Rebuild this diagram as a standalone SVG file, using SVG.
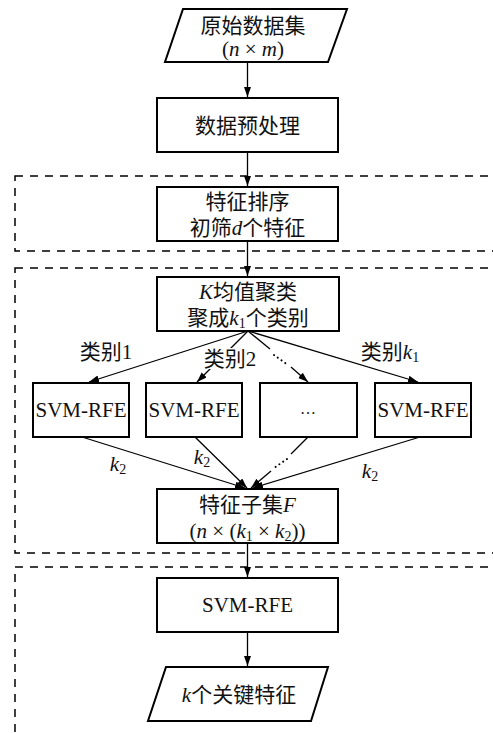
<svg xmlns="http://www.w3.org/2000/svg" width="493" height="733" viewBox="0 0 493 733">
<style>
.box{fill:#fff;stroke:#000;stroke-width:2}
.dash{fill:none;stroke:#000;stroke-width:1.5;stroke-dasharray:8 7}
.ln{fill:none;stroke:#000;stroke-width:1.3}
.dot{fill:none;stroke:#000;stroke-width:2;stroke-dasharray:0.1 4.5;stroke-linecap:round}
.t{font-family:"Liberation Serif","Noto Sans CJK SC",serif;font-size:21px;fill:#111;text-anchor:middle}
.i{font-style:italic}
.sub{font-size:14px}
</style>
<defs>
<marker id="ah" markerUnits="userSpaceOnUse" markerWidth="11" markerHeight="8" refX="10" refY="3.5" orient="auto">
<path d="M0,0 L10,3.5 L0,7 z" fill="#000"/>
</marker>
</defs>
<g id="frames">
<rect class="dash" x="15" y="176" width="490" height="75"/>
<rect class="dash" x="15" y="268" width="490" height="285"/>
<rect class="dash" x="15" y="567" width="490" height="200"/>
</g>
<g id="connectors">
<line class="ln" x1="247.5" y1="62" x2="247.5" y2="97" marker-end="url(#ah)"/>
<line class="ln" x1="247.5" y1="152" x2="247.5" y2="186" marker-end="url(#ah)"/>
<line class="ln" x1="247.5" y1="241" x2="247.5" y2="276" marker-end="url(#ah)"/>
<line class="ln" x1="248" y1="331" x2="89" y2="382" marker-end="url(#ah)"/>
<line class="ln" x1="248" y1="331" x2="197" y2="382" marker-end="url(#ah)"/>
<line class="ln" x1="248" y1="331" x2="270" y2="349"/>
<line class="dot" x1="274" y1="355" x2="288" y2="365"/>
<line class="ln" x1="291" y1="367" x2="308" y2="382" marker-end="url(#ah)"/>
<line class="ln" x1="248" y1="331" x2="418" y2="382" marker-end="url(#ah)"/>
<line class="ln" x1="82" y1="437" x2="245" y2="488" marker-end="url(#ah)"/>
<line class="ln" x1="195" y1="437" x2="247" y2="488" marker-end="url(#ah)"/>
<line class="ln" x1="308" y1="437" x2="291" y2="454"/>
<line class="dot" x1="287" y1="459" x2="274" y2="468"/>
<line class="ln" x1="271" y1="471" x2="251" y2="488" marker-end="url(#ah)"/>
<line class="ln" x1="420" y1="437" x2="253" y2="488" marker-end="url(#ah)"/>
<line class="ln" x1="247.5" y1="543" x2="247.5" y2="577" marker-end="url(#ah)"/>
<line class="ln" x1="247.5" y1="632" x2="247.5" y2="666" marker-end="url(#ah)"/>
</g>
<g id="n_input">
<polygon class="box" points="183,9 347,9 328,62 165,62"/>
<text class="t" x="253" y="33">原始数据集</text>
<text class="t" x="253" y="56">(<tspan class="i">n</tspan> × <tspan class="i">m</tspan>)</text>
</g>
<g id="n_pre">
<rect class="box" x="157" y="98" width="181" height="54"/>
<text class="t" x="247.5" y="133">数据预处理</text>
</g>
<g id="n_rank">
<rect class="box" x="157" y="187" width="181" height="54"/>
<text class="t" x="247.5" y="209">特征排序</text>
<text class="t" x="247.5" y="235">初筛<tspan class="i">d</tspan>个特征</text>
</g>
<g id="n_kmeans">
<rect class="box" x="157" y="277" width="182" height="54"/>
<text class="t" x="248" y="299"><tspan class="i">K</tspan>均值聚类</text>
<text class="t" x="248" y="325">聚成<tspan class="i">k</tspan><tspan class="sub" dy="3">1</tspan><tspan dy="-3">个类别</tspan></text>
</g>
<g id="labels">
<text class="t" x="106" y="359">类别1</text>
<rect x="203" y="348" width="55" height="21" fill="#fff"/>
<text class="t" x="230" y="366">类别2</text>
<text class="t" x="390" y="359">类别<tspan class="i">k</tspan><tspan class="sub" dy="3">1</tspan></text>
<text class="t" x="118" y="471"><tspan class="i">k</tspan><tspan class="sub" dy="3">2</tspan></text>
<text class="t" x="202" y="464"><tspan class="i">k</tspan><tspan class="sub" dy="3">2</tspan></text>
<text class="t" x="370" y="478"><tspan class="i">k</tspan><tspan class="sub" dy="3">2</tspan></text>
</g>
<g id="n_svm1">
<rect class="box" x="33" y="383" width="96" height="54"/>
<text class="t" x="81" y="417">SVM-RFE</text>
</g>
<g id="n_svm2">
<rect class="box" x="146" y="383" width="96" height="54"/>
<text class="t" x="194" y="417">SVM-RFE</text>
</g>
<g id="n_svm3">
<rect class="box" x="260" y="383" width="97" height="54"/>
<text class="t" x="308" y="414" style="font-size:16px">…</text>
</g>
<g id="n_svm4">
<rect class="box" x="375" y="383" width="96" height="54"/>
<text class="t" x="423" y="417">SVM-RFE</text>
</g>
<g id="n_subset">
<rect class="box" x="157" y="489" width="181" height="54"/>
<text class="t" x="247.5" y="512">特征子集<tspan class="i">F</tspan></text>
<text class="t" x="247.5" y="538">(<tspan class="i">n</tspan> × (<tspan class="i">k</tspan><tspan class="sub" dy="3">1</tspan><tspan dy="-3"> × </tspan><tspan class="i">k</tspan><tspan class="sub" dy="3">2</tspan><tspan dy="-3">))</tspan></text>
</g>
<g id="n_svm_final">
<rect class="box" x="157" y="578" width="181" height="54"/>
<text class="t" x="247.5" y="612">SVM-RFE</text>
</g>
<g id="n_output">
<polygon class="box" points="166,667 328,667 311,721 148,721"/>
<text class="t" x="239" y="702"><tspan class="i">k</tspan>个关键特征</text>
</g>
</svg>
